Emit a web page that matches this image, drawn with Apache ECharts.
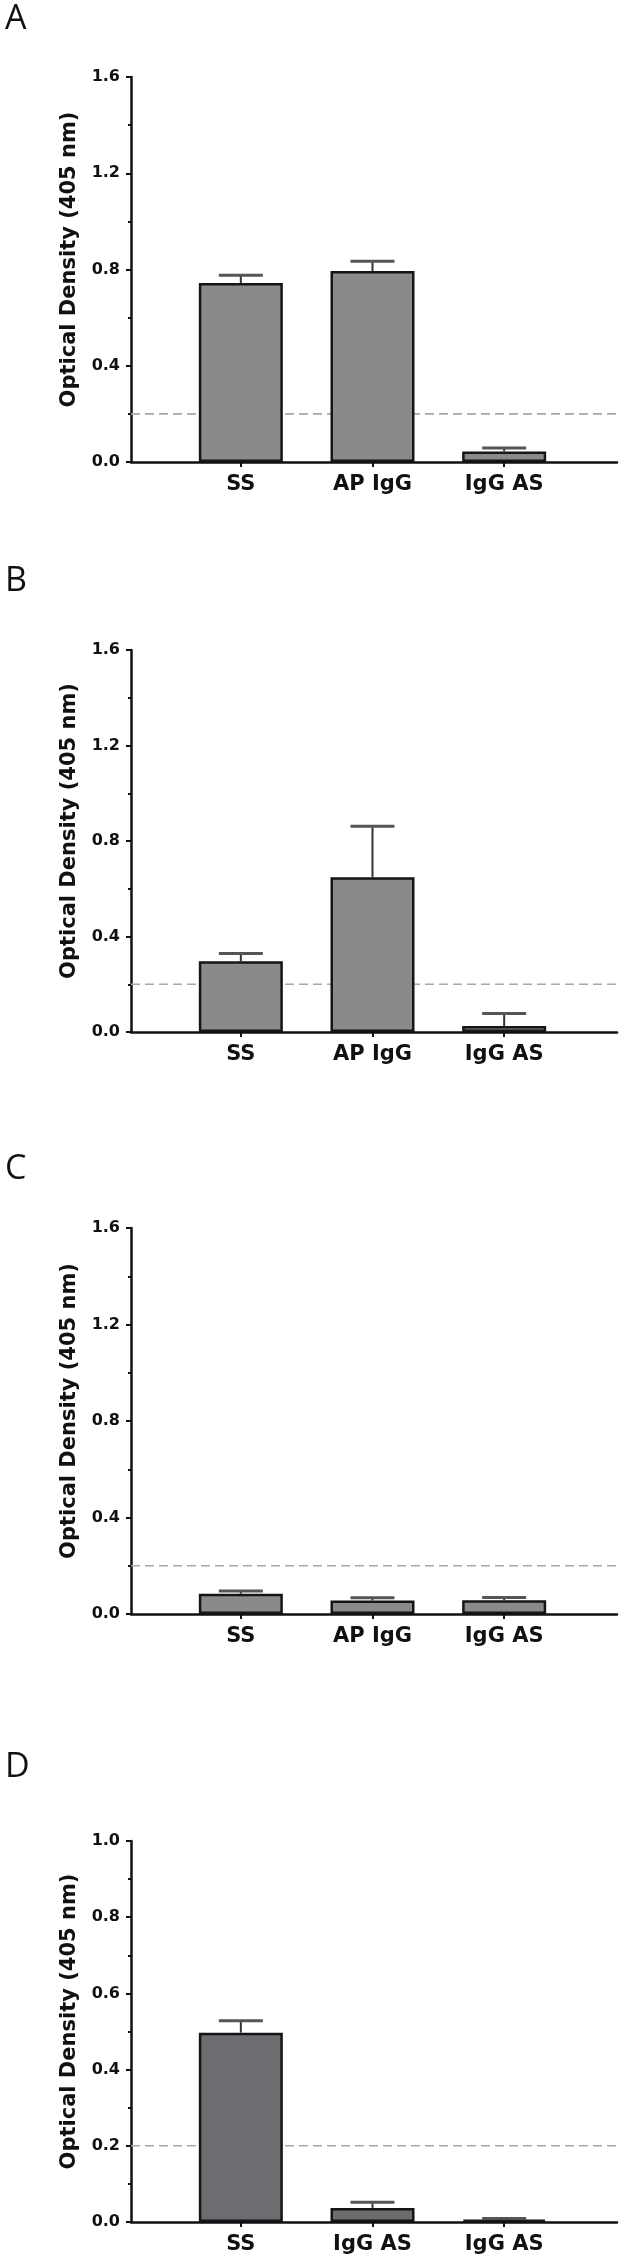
<!DOCTYPE html>
<html>
<head>
<meta charset="utf-8">
<script src="https://cdn.jsdelivr.net/npm/echarts@6/dist/echarts.min.js"></script>
<style>
html,body{margin:0;padding:0;background:#fff;}
#chart{width:624px;height:2266px;}
</style>
</head>
<body>
<div id="chart"></div>
<script>
// ---- data ----
const categoriesABC = ['SS', 'AP IgG', 'IgG AS'];
const categoriesD = ['SS', 'IgG AS', 'IgG AS'];
const panelLetters = ['A', 'B', 'C', 'D'];

const meanA = [0.744, 0.794, 0.044];
const errTopA = [0.776, 0.834, 0.058];
const meanB = [0.296, 0.648, 0.025];
const errTopB = [0.329, 0.862, 0.077];
const meanC = [0.084, 0.056, 0.057];
const errTopC = [0.095, 0.067, 0.068];
const meanD = [0.497, 0.037, 0.006];
const errTopD = [0.528, 0.052, 0.009];

const thresholdA = 0.2, thresholdB = 0.2, thresholdC = 0.2, thresholdD = 0.2;
const yMaxABC = 1.6, yStepABC = 0.4;
const yMaxD = 1.0, yStepD = 0.2;
const yTitle = 'Optical Density (405 nm)';

// ---- layout ----
const FONT = '"DejaVu Sans", sans-serif';
const layout = [
  {top: 77,   height: 385, labelY: 2,    fill: '#8a8a8a'},
  {top: 650,  height: 382, labelY: 564,  fill: '#8a8a8a'},
  {top: 1228, height: 386, labelY: 1152, fill: '#8a8a8a'},
  {top: 1841, height: 381, labelY: 1750, fill: '#6d6d71'}
];
const panels = [
  {cats: categoriesABC, mean: meanA, err: errTopA, thr: thresholdA, max: yMaxABC, step: yStepABC},
  {cats: categoriesABC, mean: meanB, err: errTopB, thr: thresholdB, max: yMaxABC, step: yStepABC},
  {cats: categoriesABC, mean: meanC, err: errTopC, thr: thresholdC, max: yMaxABC, step: yStepABC},
  {cats: categoriesD,   mean: meanD, err: errTopD, thr: thresholdD, max: yMaxD,   step: yStepD}
];

const AXIS_LEFT = 131, AXIS_RIGHT = 617;
const CAT_LEFT = 175, CAT_WIDTH = 395;

const grid = [], xAxis = [], yAxis = [], series = [], graphic = [];

panels.forEach((p, i) => {
  const L = layout[i];
  grid.push({left: AXIS_LEFT, width: AXIS_RIGHT - AXIS_LEFT, top: L.top, height: L.height});
  grid.push({left: CAT_LEFT, width: CAT_WIDTH, top: L.top, height: L.height});
  const g0 = 2 * i, g1 = 2 * i + 1;

  xAxis.push({
    type: 'value', gridIndex: g0, min: 0, max: 1,
    axisLine: {show: true, onZero: false, lineStyle: {color: '#111', width: 2.5}},
    axisTick: {show: false}, axisLabel: {show: false}, splitLine: {show: false}
  });
  xAxis.push({
    type: 'category', gridIndex: g1, data: p.cats, boundaryGap: true,
    axisLine: {show: false},
    axisTick: {show: true, alignWithLabel: true, length: 5, lineStyle: {color: '#111', width: 2}},
    axisLabel: {show: true, margin: 12, fontFamily: FONT, fontWeight: 'bold', fontSize: 21, color: '#111', interval: 0},
    splitLine: {show: false}
  });
  yAxis.push({
    type: 'value', gridIndex: g0, min: 0, max: p.max, interval: p.step,
    name: yTitle, nameLocation: 'middle', nameRotate: 90, nameGap: 51,
    nameTextStyle: {fontFamily: FONT, fontWeight: 'bold', fontSize: 21, color: '#111', padding: [0, 0, 0, 20]},
    axisLine: {show: true, onZero: false, lineStyle: {color: '#111', width: 2.5}},
    axisTick: {show: true, length: 5, lineStyle: {color: '#111', width: 2}},
    minorTick: {show: true, splitNumber: 2, length: 3, lineStyle: {color: '#111', width: 2}},
    axisLabel: {margin: 11, fontFamily: FONT, fontWeight: 'bold', fontSize: 16, color: '#111',
      formatter: v => v.toFixed(1)},
    splitLine: {show: false}
  });
  yAxis.push({
    type: 'value', gridIndex: g1, min: 0, max: p.max, interval: p.step, show: false, splitLine: {show: false}
  });

  series.push({
    type: 'line', xAxisIndex: g0, yAxisIndex: g0, data: [[0, p.thr], [1, p.thr]],
    symbol: 'none', silent: true, z: 1,
    lineStyle: {color: '#a8a8a8', width: 1.6, type: [9, 5]}
  });
  series.push({
    type: 'bar', xAxisIndex: g1, yAxisIndex: g1, data: p.mean, barWidth: 84, z: 3,
    itemStyle: {color: L.fill, borderColor: '#151515', borderWidth: 2.5}
  });
  series.push({
    type: 'custom', xAxisIndex: g1, yAxisIndex: g1, z: 4,
    data: p.mean.map((m, k) => [k, m, p.err[k]]),
    renderItem: (params, api) => {
      const base = api.coord([api.value(0), api.value(1)]);
      const top = api.coord([api.value(0), api.value(2)]);
      const half = 22;
      return {
        type: 'group',
        children: [
          {type: 'line', shape: {x1: base[0], y1: base[1], x2: top[0], y2: top[1]},
           style: {stroke: '#333', lineWidth: 2}},
          {type: 'line', shape: {x1: top[0] - half, y1: top[1], x2: top[0] + half, y2: top[1]},
           style: {stroke: '#555', lineWidth: 3}}
        ]
      };
    }
  });

  graphic.push({
    type: 'text', left: 5, top: L.labelY,
    style: {text: panelLetters[i], fontFamily: '"Open Sans", sans-serif', fontSize: 34, fill: '#111'}
  });
});

const chart = echarts.init(document.getElementById('chart'), null, {renderer: 'canvas'});
chart.setOption({
  animation: false,
  backgroundColor: '#fff',
  grid, xAxis, yAxis, series, graphic
});
</script>
</body>
</html>
